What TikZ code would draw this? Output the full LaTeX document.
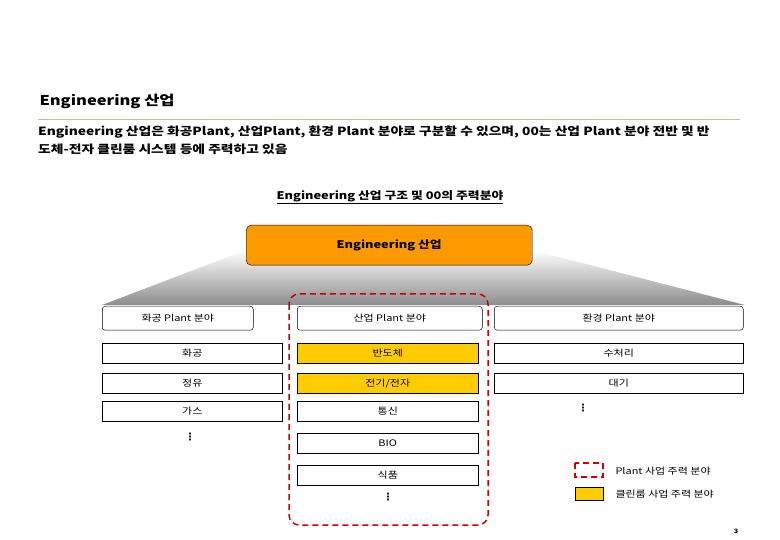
\documentclass[tikz,border=0pt]{standalone}
\usepackage{fontspec}
\setmainfont[FakeStretch=1.22]{Noto Sans CJK KR}
\newfontfamily\symf{DejaVu Sans}
\usetikzlibrary{shadings}
\definecolor{org}{RGB}{255,153,0}
\definecolor{yel}{RGB}{255,204,0}
\begin{document}
\begin{tikzpicture}[x=1pt,y=-1pt,
  cell/.style={draw=black,line width=0.5pt,minimum height=20pt,inner sep=0pt,font=\fontsize{9}{10}\selectfont,anchor=north west},
  hdr/.style={cell,rounded corners=3pt,minimum height=24pt},
  hl/.style={fill=yel},
  dots/.style={font=\symf\bfseries\fontsize{10}{10}\selectfont}]
\useasboundingbox (0,0) rectangle (780,540);
\node[anchor=west,font=\bfseries\fontsize{13.5}{14}\selectfont] (title) at (36,101) {Engineering 산업};
\draw[line width=0.6pt,color={rgb,255:red,200;green,190;blue,150}] (38,119) -- (740,119);
\node[anchor=north west,align=left,inner sep=0pt,font=\bfseries\fontsize{11.3}{18}\selectfont] (para) at (38,126)
 {Engineering 산업은 화공Plant, 산업Plant, 환경 Plant 분야로 구분할 수 있으며, 00는 산업 Plant 분야 전반 및 반\\도체-전자 클린룸 시스템 등에 주력하고 있음};
\node[font=\bfseries\fontsize{10.5}{12}\selectfont] (sub) at (390,197) {\underline{Engineering 산업 구조 및 00의 주력분야}};
\shade[top color=white,bottom color=black!45] (246,250) -- (532,250) -- (745,305) -- (102,305) -- cycle;
\node[draw=black,fill=org,rounded corners=5pt,minimum width=286pt,minimum height=40pt,anchor=north west,font=\bfseries\fontsize{10.5}{12}\selectfont] (top) at (246,225) {Engineering 산업};
\node[hdr,fill=white,minimum width=151pt] (h1) at (102,306) {화공 Plant 분야};
\node[hdr,fill=white,minimum width=185pt] (h2) at (297,306) {산업 Plant 분야};
\node[hdr,fill=white,minimum width=249pt] (h3) at (494,306) {환경 Plant 분야};
\node[cell,minimum width=180pt] (a1) at (102,343) {화공};
\node[cell,minimum width=180pt] (a2) at (102,373) {정유};
\node[cell,minimum width=180pt] (a3) at (102,401) {가스};
\node[dots] (ad) at (190,437) {⋮};
\node[cell,hl,minimum width=181pt] (b1) at (297,343) {반도체};
\node[cell,hl,minimum width=181pt] (b2) at (297,373) {전기/전자};
\node[cell,minimum width=181pt] (b3) at (297,401) {통신};
\node[cell,minimum width=181pt] (b4) at (297,433) {BIO};
\node[cell,minimum width=181pt] (b5) at (297,465) {식품};
\node[dots] (bd) at (388,497) {⋮};
\node[cell,minimum width=249pt] (c1) at (494,343) {수처리};
\node[cell,minimum width=249pt] (c2) at (494,373) {대기};
\node[dots] (cd) at (583,408) {⋮};
\draw[red!80!black,line width=1.5pt,dash pattern=on 6pt off 4pt,rounded corners=10pt] (289,294) rectangle (488,525);
\draw[red!80!black,line width=1.5pt,dash pattern=on 6pt off 4pt] (575,463) rectangle (603,477);
\node[anchor=west,font=\fontsize{9}{10}\selectfont] (l1) at (612,471) {Plant 사업 주력 분야};
\draw[black,fill=yel] (575,487) rectangle (603,500);
\node[anchor=west,font=\fontsize{9}{10}\selectfont] (l2) at (612,494) {클린룸 사업 주력 분야};
\node[font=\bfseries\fontsize{6}{7}\selectfont] (pg) at (736,531) {3};
\end{tikzpicture}
\end{document}
